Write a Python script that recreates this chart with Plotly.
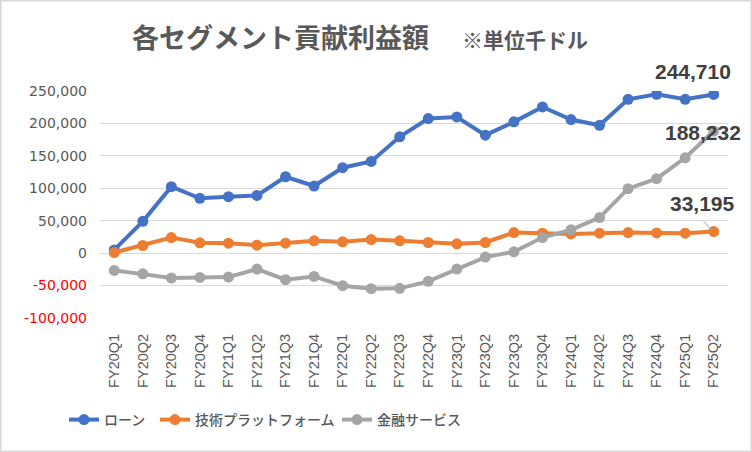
import plotly.graph_objects as go

categories = ["FY20Q1", "FY20Q2", "FY20Q3", "FY20Q4",
              "FY21Q1", "FY21Q2", "FY21Q3", "FY21Q4",
              "FY22Q1", "FY22Q2", "FY22Q3", "FY22Q4",
              "FY23Q1", "FY23Q2", "FY23Q3", "FY23Q4",
              "FY24Q1", "FY24Q2", "FY24Q3", "FY24Q4",
              "FY25Q1", "FY25Q2"]

loan = [5000, 49000, 102500, 84500, 87000, 89000, 117800, 103500,
        131700, 141400, 179300, 207500, 210000, 181900, 202400, 225400,
        206000, 197200, 237200, 245000, 237200, 244710]

tech_platform = [1000, 11800, 24000, 15900, 15400, 12300, 15400, 19000,
                 17400, 21000, 19000, 16400, 14300, 16400, 31800, 30700,
                 29700, 30700, 31800, 31200, 30700, 33195]

financial_services = [-26600, -31800, -38400, -37400, -36900, -24600, -41000, -35900,
                      -50200, -54800, -54300, -43500, -24600, -6100, 2000, 24000,
                      35900, 54800, 99400, 114800, 147000, 188232]

series_names = ["ローン", "技術プラットフォーム", "金融サービス"]
series_colors = ["#4472C4", "#ED7D31", "#A5A5A5"]

y_ticks = [-100000, -50000, 0, 50000, 100000, 150000, 200000, 250000]
y_ticktext = [
    ("<span style='color:#FF0000'>{:,}</span>".format(v) if v < 0 else "{:,}".format(v))
    for v in y_ticks
]

title_main = "各セグメント貢献利益額"
title_unit = "※単位千ドル"

W, H = 752, 452
ML, MR, MT, MB = 100, 24, 91, 134
PW, PH = W - ML - MR, H - MT - MB

legend_ids = ["legend", "legend2", "legend3"]
legend_left_px = [72, 163, 345]

fig = go.Figure()
for name, vals, col, lid in zip(series_names, [loan, tech_platform, financial_services],
                                series_colors, legend_ids):
    fig.add_trace(go.Scatter(
        x=categories, y=vals, name=name, mode="lines+markers",
        line=dict(color=col, width=4),
        marker=dict(color=col, size=11),
        legend=lid,
    ))

label_font = dict(family="Liberation Sans, Arial, sans-serif", size=21, color="#404040")
fig.add_annotation(x=categories[-1], y=loan[-1], text="<b>{:,}</b>".format(loan[-1]),
                   showarrow=False, xanchor="center", yanchor="middle",
                   xshift=-21, yshift=23, font=label_font)
fig.add_annotation(x=categories[-1], y=financial_services[-1],
                   text="<b>{:,}</b>".format(financial_services[-1]),
                   showarrow=False, xanchor="center", yanchor="middle",
                   xshift=-11, yshift=-1, font=label_font)
fig.add_annotation(x=categories[-1], y=tech_platform[-1],
                   text="<b>{:,}</b>".format(tech_platform[-1]),
                   showarrow=False, xanchor="center", yanchor="middle",
                   xshift=-11, yshift=28, font=label_font)
# leader line for the 33,195 label
fig.add_shape(type="line", xref="x", yref="y",
              xsizemode="pixel", ysizemode="pixel",
              xanchor=categories[-1], yanchor=tech_platform[-1],
              x0=-10, y0=10, x1=-2, y1=2,
              line=dict(color="#A6A6A6", width=1))

fig.add_shape(type="rect", xref="paper", yref="paper",
              x0=-ML / PW + 0.001, x1=1 + MR / PW - 0.001,
              y0=-MB / PH + 0.002, y1=1 + MT / PH - 0.002,
              line=dict(color="#D9D9D9", width=2), layer="below")

legend_font = dict(family="Noto Sans CJK JP", size=14, color="#595959", weight=500)
legend_y = -(420 - MT - PH) / PH
legend_common = dict(orientation="h", xanchor="left", y=legend_y, yanchor="middle",
                     font=legend_font, itemwidth=30, bgcolor="rgba(0,0,0,0)")

fig.update_layout(
    width=W, height=H,
    margin=dict(l=ML, r=MR, t=MT, b=MB),
    paper_bgcolor="white", plot_bgcolor="white",
    title=dict(
        text="<b>" + title_main + "</b>\u3000 <b><span style='font-size:21px'>" + title_unit + "</span></b>",
        x=132 / W, xanchor="left", xref="container",
        y=1 - 39 / H, yanchor="middle", yref="container",
        font=dict(family="Noto Sans CJK JP", size=27, color="#595959"),
    ),
    showlegend=True,
    legend=dict(x=(legend_left_px[0] - 8 - ML) / PW, **legend_common),
    legend2=dict(x=(legend_left_px[1] - 8 - ML) / PW, **legend_common),
    legend3=dict(x=(legend_left_px[2] - 8 - ML) / PW, **legend_common),
    font=dict(family="Liberation Sans", color="#595959"),
)

fig.update_xaxes(
    type="category", range=[-0.5, len(categories) - 0.5],
    tickangle=-90, showgrid=False, showline=False, zeroline=False,
    ticks="", ticklabelstandoff=12,
    tickfont=dict(family="Liberation Sans, Arial", size=14.5, color="#595959"),
)
fig.update_yaxes(
    range=[-100000, 250000], tickvals=y_ticks, ticktext=y_ticktext,
    showgrid=True, gridcolor="#D9D9D9", gridwidth=1.3,
    zeroline=False, showline=False, ticks="", ticklabelstandoff=12,
    tickfont=dict(family="DejaVu Sans", size=14, color="#595959"),
)

fig.write_html("out.html", config={"displayModeBar": False},
               post_script="document.body.style.margin='0';document.body.style.overflow='hidden';")
